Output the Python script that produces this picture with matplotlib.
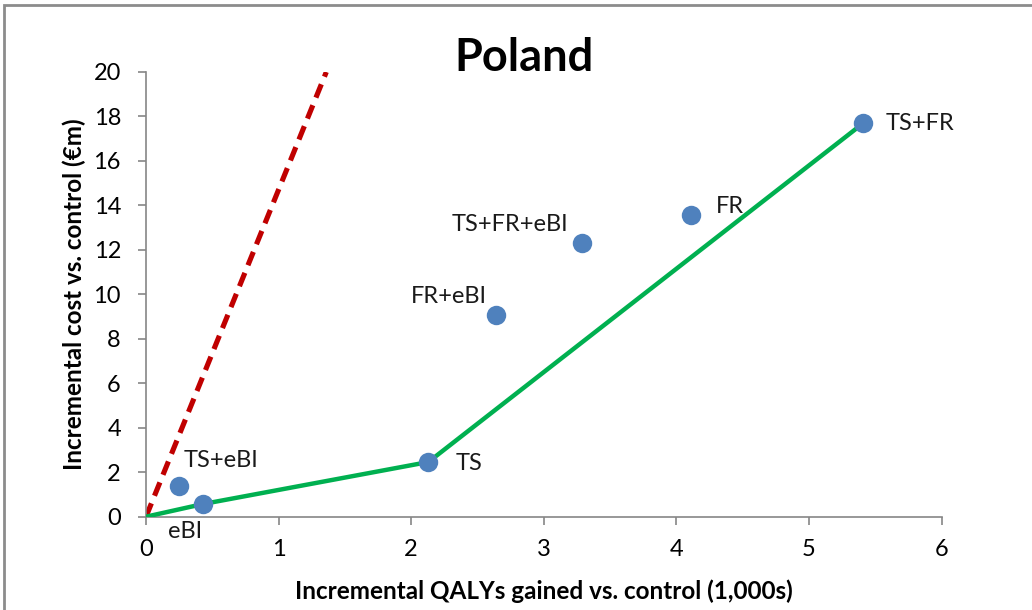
import matplotlib
matplotlib.use("Agg")
import matplotlib.pyplot as plt
from matplotlib.patches import Rectangle

# incremental QALYs gained (1,000s) and incremental cost (EUR m) per strategy
labels = ["TS+eBI", "eBI", "TS", "FR+eBI", "TS+FR+eBI", "FR", "TS+FR"]
qalys = [0.25, 0.43, 2.13, 2.64, 3.29, 4.11, 5.41]
costs = [1.38, 0.57, 2.46, 9.08, 12.31, 13.57, 17.70]

# efficiency frontier (starts at origin)
frontier_x = [0, 0.43, 2.13, 5.41]
frontier_y = [0, 0.57, 2.46, 17.70]

# willingness-to-pay threshold line
wtp_x = [0, 1.36]
wtp_y = [0, 20]

# label offsets in pixels relative to each point, plus alignment
offsets = {"TS+eBI": (4, 26, "left"), "eBI": (-18, -27, "center"),
           "TS": (27, -1, "left"), "FR+eBI": (-9, 18, "right"),
           "TS+FR+eBI": (-14, 18, "right"), "FR": (25, 8, "left"),
           "TS+FR": (22, 0, "left")}

plt.rcParams["font.family"] = ["Lato", "DejaVu Sans"]

fig = plt.figure(figsize=(10.32, 6.10), dpi=100)
ax = fig.add_axes([146 / 1032, 1 - 516.7 / 610, (941.5 - 146) / 1032, (516.7 - 72) / 610])

ax.plot(wtp_x, wtp_y, color="#C00000", lw=3.7, dashes=(2.8, 1.6), zorder=2)
ax.plot(frontier_x, frontier_y, color="#00B050", lw=3.2, zorder=3)
ax.plot(qalys, costs, "o", color="#4F81BD", ms=14, mec="none", zorder=4)

for lab, x, y in zip(labels, qalys, costs):
    dx, dy, ha = offsets[lab]
    ax.annotate(lab, (x, y), xytext=(dx, dy), textcoords="offset pixels",
                ha=ha, va="center", fontsize=17, color="#1a1a1a")

ax.set_xlim(0, 6)
ax.set_ylim(0, 20)
ax.set_xticks(range(0, 7))
ax.set_yticks(range(0, 21, 2))
ax.tick_params(axis="both", labelsize=17, color="#868686", length=6, width=1.2)
ax.tick_params(axis="x", pad=10)
ax.tick_params(axis="y", pad=12)
for s in ["top", "right"]:
    ax.spines[s].set_visible(False)
for s in ["left", "bottom"]:
    ax.spines[s].set_color("#868686")
    ax.spines[s].set_linewidth(1.2)

ax.set_xlabel("Incremental QALYs gained vs. control (1,000s)", fontsize=17.5,
              fontweight="bold", labelpad=14)
ax.set_ylabel("Incremental cost vs. control (\u20acm)", fontsize=17.5,
              fontweight="bold", labelpad=5)

fig.text(524 / 1032, 1 - 58 / 610, "Poland", ha="center", va="center",
         fontsize=32.5, fontweight="bold")

# outer chart frame
fig.patches.append(Rectangle((4 / 1032, -0.05), 1.1, 1 - 5 / 610 + 0.05,
                             transform=fig.transFigure, fill=False,
                             edgecolor="#8c8c8c", lw=2))

fig.savefig("out.png", dpi=100)
